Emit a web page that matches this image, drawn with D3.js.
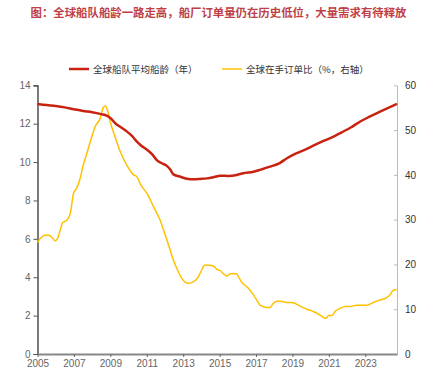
<!DOCTYPE html>
<html><head><meta charset="utf-8">
<script src="https://cdn.jsdelivr.net/npm/d3@7"></script>
<style>body{margin:0;background:#fff}svg{display:block}</style>
</head><body>
<svg id="c" width="440" height="377"></svg>
<script>
const titleText = "图：全球船队船龄一路走高，船厂订单量仍在历史低位，大量需求有待释放";
const seriesNames = ["全球船队平均船龄（年）", "全球在手订单比（%，右轴）"];
const xTicks = [2005, 2007, 2009, 2011, 2013, 2015, 2017, 2019, 2021, 2023];
const leftTicks = [0, 2, 4, 6, 8, 10, 12, 14];
const rightTicks = [0, 10, 20, 30, 40, 50, 60];

const ageYears = [2005.0,2005.5,2006.0,2006.5,2007.0,2007.5,2008.0,2008.5,2008.8,2009.0,2009.3,2009.6,2009.9,2010.2,2010.46,2010.7,2011.0,2011.3,2011.55,2011.8,2012.1,2012.3,2012.46,2012.8,2013.2,2013.6,2013.93,2014.3,2014.7,2015.03,2015.5,2015.94,2016.3,2016.86,2017.3,2017.77,2018.3,2018.7,2019.2,2019.7,2020.2,2020.7,2021.2,2021.7,2022.2,2022.7,2023.2,2023.7,2024.2,2024.74];
const fleetAge = [13.03,12.97,12.92,12.85,12.75,12.66,12.6,12.5,12.42,12.3,12.0,11.8,11.6,11.35,11.06,10.85,10.65,10.4,10.1,9.95,9.8,9.6,9.36,9.25,9.13,9.1,9.12,9.15,9.22,9.29,9.28,9.33,9.42,9.5,9.62,9.76,9.95,10.2,10.45,10.65,10.88,11.1,11.3,11.55,11.8,12.1,12.35,12.58,12.8,13.03];

const obYears = [2005.0,2005.15,2005.5,2005.7,2005.97,2006.15,2006.25,2006.4,2006.6,2006.8,2006.98,2007.15,2007.34,2007.5,2007.71,2007.98,2008.17,2008.44,2008.62,2008.72,2008.84,2008.99,2009.26,2009.54,2009.9,2010.27,2010.46,2010.64,2011.0,2011.37,2011.73,2011.92,2012.2,2012.46,2012.65,2012.92,2013.29,2013.56,2013.84,2013.93,2014.11,2014.2,2014.66,2014.85,2015.03,2015.4,2015.58,2015.94,2016.03,2016.2,2016.5,2016.86,2017.04,2017.22,2017.59,2017.77,2017.95,2018.14,2018.32,2018.69,2018.96,2019.42,2019.78,2020.15,2020.52,2020.79,2020.88,2020.97,2021.16,2021.34,2021.61,2021.89,2022.16,2022.53,2023.08,2023.44,2023.81,2024.08,2024.36,2024.5,2024.72];
const orderbook = [24.9,25.8,26.6,26.4,25.3,26.3,27.7,29.4,29.8,31.4,35.9,37.0,39.2,42.0,44.8,48.5,50.8,52.6,55.1,55.4,54.5,51.9,48.5,45.2,42.2,40.0,39.6,38.0,35.9,32.9,29.9,27.7,24.3,21.0,19.1,16.9,15.8,16.1,17.3,18.0,19.5,19.9,19.65,18.9,18.6,17.4,17.9,17.9,17.3,16.1,15.0,13.2,12.05,10.9,10.4,10.4,11.3,11.8,11.8,11.5,11.5,10.7,10.0,9.5,8.7,8.0,8.1,8.6,8.6,9.5,10.2,10.6,10.6,10.9,10.9,11.5,12.05,12.4,13.2,14.1,14.4];

const svg = d3.select("#c");
const L = 37.5, R = 397, T = 85.3, B = 354;
const x = d3.scaleLinear().domain([2005, 2024.74]).range([L, R]);
const yL = d3.scaleLinear().domain([0, 14]).range([B, T]);
const yR = d3.scaleLinear().domain([0, 60]).range([B, T]);

const cjk = "'Noto Sans CJK SC', sans-serif";
const lat = "'Liberation Sans', Arial, sans-serif";

svg.append("text").attr("x", 218.5).attr("y", 16.5).attr("text-anchor", "middle")
  .attr("font-family", cjk).attr("font-weight", "bold").attr("font-size", 11.4)
  .attr("fill", "#BF3F46").text(titleText);

// legend
const lg = [{n: seriesNames[0], c: "#C82310", w: 2.5, x: 69}, {n: seriesNames[1], c: "#FFC000", w: 1.5, x: 222}];
lg.forEach(d => {
  svg.append("line").attr("x1", d.x).attr("x2", d.x + 20).attr("y1", 69).attr("y2", 69)
    .attr("stroke", d.c).attr("stroke-width", d.w);
  svg.append("text").attr("x", d.x + 24).attr("y", 72.5).attr("font-family", cjk)
    .attr("font-size", 9.5).attr("fill", "#333").text(d.n);
});

// left axis
const gl = svg.append("g").attr("transform", `translate(${L},0)`)
  .call(d3.axisLeft(yL).tickValues(leftTicks).tickSize(4).tickPadding(3));
gl.select(".domain").attr("stroke", "#222").attr("stroke-width", 1.2);
gl.selectAll(".tick line").attr("stroke", "#555");
gl.selectAll("text").attr("font-family", lat).attr("font-size", 10).attr("fill", "#666");

// right axis
const gr = svg.append("g").attr("transform", `translate(${R},0)`)
  .call(d3.axisRight(yR).tickValues(rightTicks).tickSize(0).tickPadding(8));
gr.select(".domain").attr("stroke", "#bbb");
gr.selectAll(".tick").append("line").attr("x1", -3).attr("x2", 0).attr("stroke", "#bbb");
gr.selectAll("text").attr("font-family", lat).attr("font-size", 10).attr("fill", "#333");

// x axis
const gx = svg.append("g").attr("transform", `translate(0,${B})`)
  .call(d3.axisBottom(x).tickValues(xTicks).tickFormat(d3.format("d")).tickSize(3).tickPadding(3).tickSizeOuter(0));
gx.select(".domain").attr("stroke", "#888").attr("stroke-width", 2.2);
gx.selectAll(".tick line").attr("stroke", "#666");
gx.selectAll("text").attr("font-family", lat).attr("font-size", 10).attr("fill", "#666");

// lines
const lineL = d3.line().x(d => x(d[0])).y(d => yL(d[1])).curve(d3.curveMonotoneX);
const lineR = d3.line().x(d => x(d[0])).y(d => yR(d[1])).curve(d3.curveMonotoneX);
svg.append("path").datum(obYears.map((t, i) => [t, orderbook[i]]))
  .attr("d", lineR).attr("fill", "none").attr("stroke", "#FFC000").attr("stroke-width", 1.5);
svg.append("path").datum(ageYears.map((t, i) => [t, fleetAge[i]]))
  .attr("d", lineL).attr("fill", "none").attr("stroke", "#C82310").attr("stroke-width", 2.5);
</script>
</body></html>
